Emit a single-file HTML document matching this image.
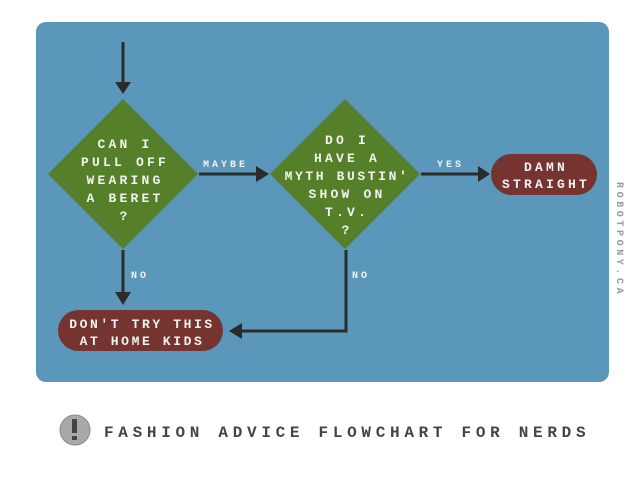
<!DOCTYPE html>
<html><head><style>
body{margin:0;background:#fff;width:640px;height:480px;overflow:hidden}
svg text{font-family:"Liberation Mono",monospace;font-weight:bold;fill:#f2f2f2}
</style></head><body>
<svg width="640" height="480" viewBox="0 0 640 480" xmlns="http://www.w3.org/2000/svg">
<rect x="36" y="22" width="573" height="360" rx="10" fill="#5b96bb"/>
<g stroke="#2b2b2b" stroke-width="3" fill="none">
<line x1="123" y1="42" x2="123" y2="82"/>
<line x1="199" y1="174" x2="256" y2="174"/>
<line x1="421" y1="174" x2="478" y2="174"/>
<line x1="123" y1="250" x2="123" y2="292"/>
<polyline points="346,250 346,331 242,331"/>
</g>
<g fill="#2b2b2b">
<polygon points="115,82 131,82 123,94"/>
<polygon points="256,166 256,182 269,174"/>
<polygon points="478,166 478,182 490,174"/>
<polygon points="115,292 131,292 123,305"/>
<polygon points="242,323 242,339 229,331"/>
</g>
<polygon points="123,99 198,174 123,249 48,174" fill="#567f2a"/>
<polygon points="345,99 420,174 345,249 270,174" fill="#567f2a"/>
<rect x="491" y="154" width="106" height="41" rx="20.5" fill="#753430"/>
<rect x="58" y="310" width="165" height="41" rx="20.5" fill="#753430"/>
<g font-size="13" text-anchor="middle" letter-spacing="3.2">
<text x="125" y="148">CAN I</text>
<text x="125" y="166">PULL OFF</text>
<text x="125" y="184">WEARING</text>
<text x="125" y="202">A BERET</text>
<text x="125" y="220">?</text>
<text x="347" y="144">DO I</text>
<text x="347" y="162">HAVE A</text>
<text x="347" y="180" letter-spacing="2.6">MYTH BUSTIN'</text>
<text x="347" y="198">SHOW ON</text>
<text x="347" y="216">T.V.</text>
<text x="347" y="234">?</text>
<text x="546" y="171">DAMN</text>
<text x="546" y="188">STRAIGHT</text>
<text x="142" y="328" letter-spacing="2.6">DON'T TRY THIS</text>
<text x="142" y="345" letter-spacing="2.6">AT HOME KIDS</text>
</g>
<g font-size="10" letter-spacing="3">
<text x="203" y="167">MAYBE</text>
<text x="437" y="167">YES</text>
<text x="131" y="278">NO</text>
<text x="352" y="278">NO</text>
</g>
<text x="0" y="0" font-size="10" letter-spacing="3.6" style="fill:#9a9a9a" transform="translate(617,182) rotate(90)">ROBOTPONY.CA</text>
<circle cx="75" cy="430" r="15" fill="#a9a9a9" stroke="#8a8a8a"/>
<rect x="72" y="419" width="5" height="14" fill="#444"/>
<rect x="72" y="436" width="5" height="4" fill="#444"/>
<text x="104" y="437" font-size="16" letter-spacing="4.7" style="fill:#444">FASHION ADVICE FLOWCHART FOR NERDS</text>
</svg>
</body></html>
